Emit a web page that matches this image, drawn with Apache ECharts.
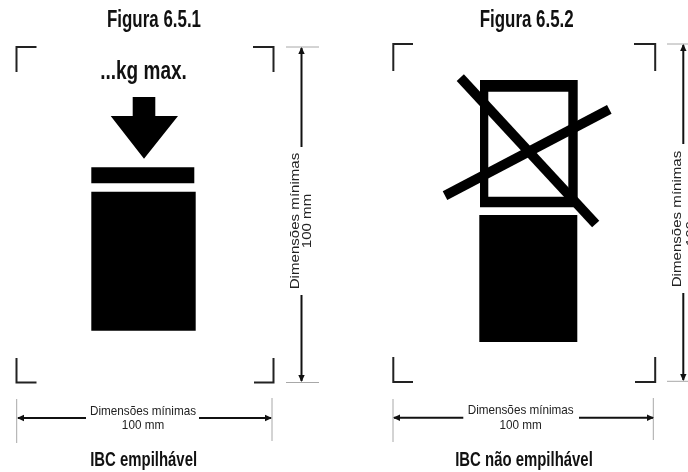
<!DOCTYPE html>
<html><head><meta charset="utf-8">
<style>html,body{margin:0;padding:0;background:#fff}#c{width:688px;height:472px;filter:blur(0.35px)}</style>
<script src="https://cdn.jsdelivr.net/npm/echarts@6/dist/echarts.min.js"></script>
</head><body><div id="c"></div>
<script>
// Diagram geometry, in picture units
const solidShapes = [
  [[132.7,97],[155.3,97],[155.3,116],[178,116],[144,158.7],[110.7,116],[132.7,116]],
  [[91.3,167.3],[194.3,167.3],[194.3,183.3],[91.3,183.3]],
  [[91.3,191.7],[195.7,191.7],[195.7,330.7],[91.3,330.7]],
  [[479.3,215],[577.3,215],[577.3,342],[479.3,342]],
  [[480,80],[577.7,80],[577.7,207.3],[480,207.3]]
];
const holeShapes = [
  [[488.3,91.7],[568.3,91.7],[568.3,196.7],[488.3,196.7]]
];
const crossBars = [
  [[460.3,77.7],[595.7,224]],
  [[445,195.7],[609.3,109.3]]
];
const cornerMarks = [
  [[16.5,72],[16.5,47],[36.5,47]],
  [[253,47],[273.5,47],[273.5,72]],
  [[16.5,358],[16.5,382.5],[36.5,382.5]],
  [[254,382.5],[273.5,382.5],[273.5,358]],
  [[393.3,71],[393.3,44],[413,44]],
  [[634,44],[655.2,44],[655.2,71]],
  [[393.3,357],[393.3,382],[413,382]],
  [[635,382],[655.2,382],[655.2,357]]
];
const thinTicks = [
  [[286,47],[319,47]],[[286,382.5],[319,382.5]],
  [[16.7,399],[16.7,443]],[[272,398],[272,441]],
  [[667,44],[688,44]],[[667,381.3],[688,381.3]],
  [[393,399],[393,442]],[[653.3,398],[653.3,440]]
];
const dimArrows = [
  [[301.5,147],[301.5,48]],[[301.5,295],[301.5,381]],
  [[86,418],[18,418]],[[199,418],[271,418]],
  [[683.3,144],[683.3,45]],[[683.3,293],[683.3,380]],
  [[463.3,417.7],[394,417.7]],[[579,417.7],[653,417.7]]
];
const titles = [["Figura 6.5.1",154,21],["Figura 6.5.2",526.7,21]];
const weightLabel = [["...kg max.",143.5,72]];
const captions = [["IBC empilhável",143.6,461],["IBC não empilhável",524,461]];
const dimLabels = [
  ["Dimensões mínimas",143,411],["100 mm",143,425],
  ["Dimensões mínimas",520.7,410],["100 mm",520.7,425]
];
const dimLabelsVertical = [
  ["Dimensões mínimas",296,221],["100 mm",308,221],
  ["Dimensões mínimas",678,219],["100 mm",692,219]
];

const pts = (api, arr) => arr.map(p => api.coord(p));
function polySeries(data, fill) {
  return { type:'custom', coordinateSystem:'cartesian2d', silent:true, clip:false,
    data: data.map((_, i) => [i, 0]),
    renderItem: (params, api) => ({ type:'polygon',
      shape:{ points: pts(api, data[api.value(0)]) }, style:{ fill } }) };
}
function lineSeries(data, stroke, width, arrow) {
  return { type:'custom', coordinateSystem:'cartesian2d', silent:true, clip:false,
    data: data.map((_, i) => [i, 0]),
    renderItem: (params, api) => {
      const p = pts(api, data[api.value(0)]);
      const kids = [{ type:'polyline', shape:{ points:p },
        style:{ stroke, lineWidth:width, fill:'none', lineCap:'butt', lineJoin:'miter' } }];
      if (arrow) {
        const a = p[0], b = p[p.length-1];
        const L = Math.hypot(b[0]-a[0], b[1]-a[1]), ux=(b[0]-a[0])/L, uy=(b[1]-a[1])/L;
        kids.push({ type:'polygon', shape:{ points:[
          [b[0]+ux,b[1]+uy],
          [b[0]-ux*6-uy*3.2,b[1]-uy*6+ux*3.2],
          [b[0]-ux*6+uy*3.2,b[1]-uy*6-ux*3.2]] }, style:{ fill:stroke } });
      }
      return { type:'group', children:kids };
    } };
}
function textSeries(data, font, fill, scaleX, scaleY, rotation) {
  return { type:'custom', coordinateSystem:'cartesian2d', silent:true, clip:false,
    data: data.map((_, i) => [i, 0]),
    renderItem: (params, api) => {
      const d = data[api.value(0)], c = api.coord([d[1], d[2]]);
      return { type:'text', x:c[0], y:c[1], rotation, scaleX, scaleY,
        style:{ text:d[0], font, fill, align:'center', verticalAlign:'middle' } };
    } };
}

const chart = echarts.init(document.getElementById('c'), null, { renderer:'canvas' });
chart.setOption({
  animation:false,
  backgroundColor:'#fff',
  grid:{ left:0, right:0, top:0, bottom:0 },
  xAxis:{ type:'value', min:0, max:688, show:false },
  yAxis:{ type:'value', min:0, max:472, inverse:true, show:false },
  series:[
    lineSeries(thinTicks, '#a8a8a8', 1),
    lineSeries(cornerMarks, '#222', 2),
    lineSeries(dimArrows, '#111', 2, true),
    polySeries(solidShapes, '#000'),
    polySeries(holeShapes, '#fff'),
    lineSeries(crossBars, '#000', 9.8),
    textSeries(titles, 'bold 23px "Liberation Sans"', '#111', 0.735, 1, 0),
    textSeries(weightLabel, 'bold 25px "Liberation Sans"', '#111', 0.76, 1, 0),
    textSeries(captions, 'bold 19.5px "Liberation Sans"', '#111', 0.765, 1, 0),
    textSeries(dimLabels, '13px "Liberation Sans"', '#222', 0.9, 1, 0),
    textSeries(dimLabelsVertical, '13px "Liberation Sans"', '#222', 1.16, 0.92, Math.PI/2)
  ]
});
</script></body></html>
